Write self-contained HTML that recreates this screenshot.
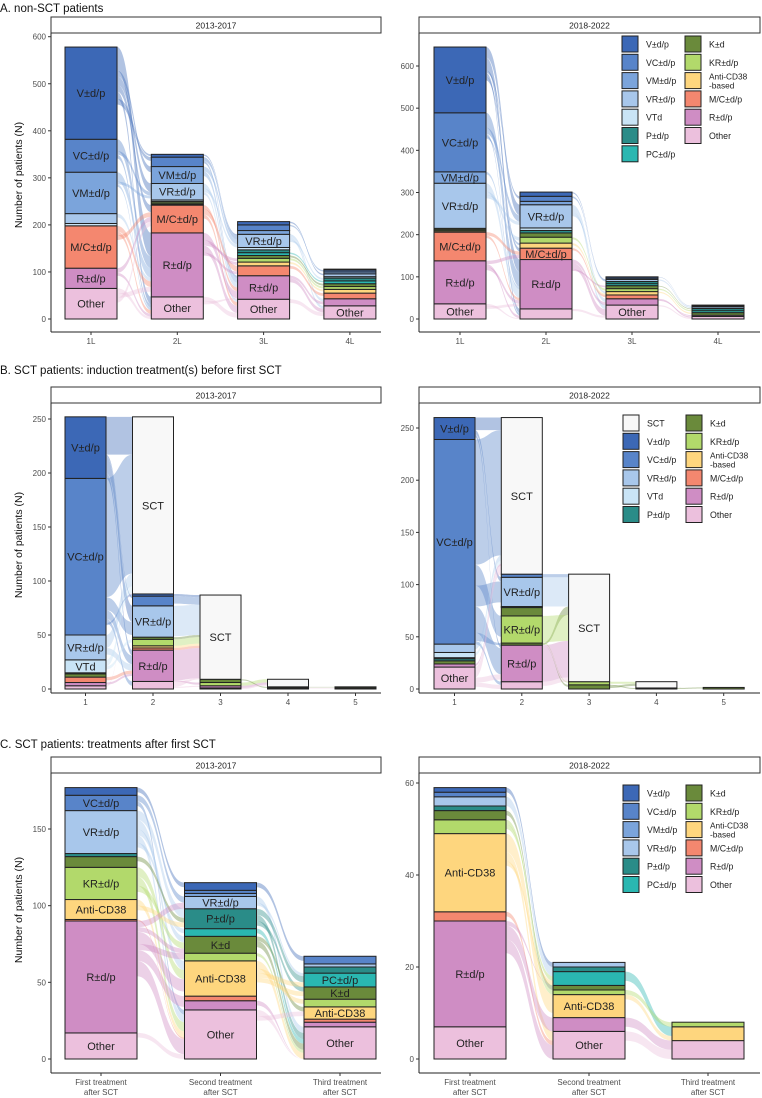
<!DOCTYPE html>
<html><head><meta charset="utf-8"><style>
html,body{margin:0;padding:0;background:#fff}
svg{display:block;font-family:"Liberation Sans",Arial,sans-serif}
</style></head><body>
<svg id="chart" width="762" height="1098" viewBox="0 0 762 1098" xmlns="http://www.w3.org/2000/svg">
<text x="0" y="12" font-size="11.5" fill="#111">A. non-SCT patients</text>
<text x="0" y="374" font-size="11.5" fill="#111">B. SCT patients: induction treatment(s) before first SCT</text>
<text x="0" y="748" font-size="11.5" fill="#111">C. SCT patients: treatments after first SCT</text>
<g id="layer"></g>
</svg>
<script>
// ---------- DATA ----------
const aStages = ['1L','2L','3L','4L'];
const bStages = ['1','2','3','4','5'];
const cStages = ['First treatment|after SCT','Second treatment|after SCT','Third treatment|after SCT'];

const aTicksLeft = [0,100,200,300,400,500,600];
const aTicksRight = [0,100,200,300,400,500,600];
const bTicks = [0,50,100,150,200,250];
const cTicksLeft = [0,50,100,150];
const cTicksRight = [0,20,40,60];

// stacks: bottom -> top : [category, patients, label]
const aLeftStacks = [
 [['Other',65,'Other'],['R',43,'R±d/p'],['MC',90,'M/C±d/p'],['VTd',5],['VR',21],['VM',88,'VM±d/p'],['VC',70,'VC±d/p'],['V',196,'V±d/p']],
 [['Other',47,'Other'],['R',136,'R±d/p'],['MC',59,'M/C±d/p'],['Anti',2],['K',3],['KR',3],['VTd',3],['VR',35,'VR±d/p'],['VM',36,'VM±d/p'],['VC',20],['V',6]],
 [['Other',42,'Other'],['R',50,'R±d/p'],['MC',21],['Anti',8],['KR',8],['K',6],['PC',6],['P',6],['VTd',5],['VR',28,'VR±d/p'],['VM',8],['VC',12],['V',7]],
 [['Other',28,'Other'],['R',15],['MC',12],['Anti',8],['KR',6],['K',6],['PC',6],['P',6],['VTd',3],['VR',6],['VM',4],['VC',4],['V',2]]
];
const aLeftFlows = [
 [0,'V','R',50],[0,'V','VM',12],[0,'V','VR',18],[0,'V','MC',15],[0,'V','Other',15],[0,'V','V',4],[0,'V','VC',8],
 [0,'VC','R',25],[0,'VC','VR',8],[0,'VC','Other',8],[0,'VM','R',20],[0,'VM','VR',6],[0,'VM','Other',5],[0,'VR','R',8],
 [0,'MC','R',12],[0,'MC','Other',8],[0,'MC','MC',10],[0,'R','MC',10],[0,'R','Other',6],[0,'Other','Other',10],[0,'Other','R',10],[0,'Other','MC',10],
 [1,'V','VR',3],[1,'VC','VR',8],[1,'VC','R',5],[1,'VM','VR',10],[1,'VM','R',10],[1,'VR','R',10],[1,'VR','VR',8],[1,'VR','Other',6],
 [1,'MC','R',8],[1,'MC','MC',12],[1,'MC','Other',8],[1,'R','R',15],[1,'R','Anti',6],[1,'R','KR',6],[1,'R','Other',15],[1,'R','MC',6],[1,'Other','Other',10],[1,'Other','R',6],
 [2,'V','VR',3],[2,'VC','VC',3],[2,'VR','R',6],[2,'VR','Other',6],[2,'VR','P',4],[2,'Anti','Anti',4],[2,'KR','KR',4],[2,'R','R',6],[2,'R','Other',8],[2,'MC','MC',6],[2,'Other','Other',8],[2,'K','K',4],[2,'PC','PC',3]
];

const aRightStacks = [
 [['Other',36,'Other'],['R',102,'R±d/p'],['MC',68,'M/C±d/p'],['Anti',3],['K',3],['KR',3],['VR',107,'VR±d/p'],['VM',27,'VM±d/p'],['VC',140,'VC±d/p'],['V',156,'V±d/p']],
 [['Other',24],['R',117,'R±d/p'],['MC',27,'M/C±d/p'],['Anti',12],['KR',14],['K',10],['P',6],['VTd',6],['VR',55,'VR±d/p'],['VM',8],['VC',12],['V',10]],
 [['Other',33,'Other'],['R',15],['MC',9],['Anti',8],['KR',7],['K',7],['P',6],['PC',4],['VR',5],['VC',3],['V',3]],
 [['Other',6],['R',3],['K',6],['P',6],['PC',4],['VR',4],['VC',2],['V',2]]
];
const aRightFlows = [
 [0,'V','VR',25],[0,'V','R',30],[0,'V','VC',6],[0,'V','Other',10],[0,'V','MC',8],[0,'VC','R',35],[0,'VC','VR',15],[0,'VC','Other',6],[0,'VC','Anti',5],
 [0,'VM','R',6],[0,'VR','R',20],[0,'VR','KR',8],[0,'VR','VR',8],[0,'MC','MC',8],[0,'MC','R',6],[0,'R','MC',8],[0,'R','Other',6],[0,'R','R',8],[0,'Other','Other',6],[0,'Other','R',6],
 [1,'V','VR',3],[1,'VC','VR',4],[1,'VR','R',8],[1,'VR','Other',10],[1,'VR','Anti',5],[1,'VR','VR',4],[1,'Anti','Anti',5],[1,'KR','KR',5],[1,'MC','MC',5],[1,'R','R',8],[1,'R','Other',15],[1,'R','K',4],[1,'Other','Other',5],
 [2,'V','VC',1],[2,'VR','VR',3],[2,'Anti','K',3],[2,'KR','P',3],[2,'R','Other',3],[2,'Other','Other',3],[2,'R','R',2],[2,'K','PC',2]
];

const bLeftStacks = [
 [['Other',3],['R',3],['MC',5],['K',3],['P',1],['VTd',12,'VTd'],['VR',23,'VR±d/p'],['VC',145,'VC±d/p'],['V',57,'V±d/p']],
 [['Other',7],['R',29,'R±d/p'],['MC',2],['Anti',2],['KR',6],['K',2],['VR',29,'VR±d/p'],['VC',9],['V',2],['SCT',164,'SCT']],
 [['Other',1],['R',2],['KR',3],['K',3],['SCT',78,'SCT']],
 [['Other',1],['K',1],['SCT',7]],
 [['Other',1],['K',1]]
];
const bLeftFlows = [
 [0,'V','SCT',35],[0,'V','VC',2],[0,'V','VR',15],[0,'V','R',5],[0,'VC','SCT',110],[0,'VC','VR',12],[0,'VC','R',8],[0,'VC','Other',4],[0,'VC','V',2],
 [0,'VR','SCT',12],[0,'VR','R',6],[0,'VTd','SCT',6],[0,'VTd','KR',3],[0,'MC','R',3],[0,'Other','SCT',1],[0,'R','R',2],
 [1,'V','SCT',2],[1,'VC','SCT',7],[1,'VR','SCT',28],[1,'K','SCT',2],[1,'KR','SCT',6],[1,'Anti','SCT',2],[1,'MC','SCT',2],[1,'R','SCT',28],[1,'R','KR',2],[1,'Other','SCT',5],[1,'Other','R',1],
 [2,'KR','SCT',3],[2,'K','K',1],[2,'R','SCT',2],[2,'Other','SCT',1],
 [3,'K','K',0.5],[3,'Other','Other',0.5]
];

const bRightStacks = [
 [['Other',21,'Other'],['R',3],['K',3],['P',2],['KR',1],['VTd',5],['VR',8],['VC',196,'VC±d/p'],['V',21,'V±d/p']],
 [['Other',7],['R',35,'R±d/p'],['K',2],['KR',26,'KR±d/p'],['K',8],['P',1],['VR',28,'VR±d/p'],['VC',3],['SCT',150,'SCT']],
 [['K',4],['KR',3],['SCT',103,'SCT']],
 [['K',1],['SCT',6]],
 [['K',1.5]]
];
const bRightFlows = [
 [0,'V','SCT',12],[0,'V','VR',4],[0,'V','R',3],[0,'VC','SCT',120],[0,'VC','KR',20],[0,'VC','VR',20],[0,'VC','R',25],[0,'VC','K',8],[0,'VC','Other',3],
 [0,'VR','SCT',5],[0,'VTd','SCT',3],[0,'R','SCT',2],[0,'Other','SCT',10],[0,'Other','R',5],[0,'Other','Other',4],
 [1,'VC','SCT',3],[1,'VR','SCT',28],[1,'K','SCT',8],[1,'KR','SCT',25],[1,'KR','KR',1],[1,'R','SCT',35],[1,'Other','SCT',4],[1,'K','K',2],
 [2,'K','K',1],[2,'KR','SCT',2],[2,'K','SCT',2],
 [3,'K','K',1]
];

const cLeftStacks = [
 [['Other',17,'Other'],['R',73,'R±d/p'],['MC',1],['Anti',13,'Anti-CD38'],['KR',21,'KR±d/p'],['K',7],['P',2],['VR',28,'VR±d/p'],['VC',10,'VC±d/p'],['V',5]],
 [['Other',32,'Other'],['R',6],['MC',3],['Anti',23,'Anti-CD38'],['KR',5],['K',11,'K±d'],['PC',5],['P',13,'P±d/p'],['VR',8,'VR±d/p'],['VM',2],['VC',2],['V',5]],
 [['Other',21,'Other'],['R',3],['MC',2],['Anti',8,'Anti-CD38'],['KR',5],['K',8,'K±d'],['PC',9,'PC±d/p'],['P',4],['VR',2],['VC',5]]
];
const cLeftFlows = [
 [0,'V','V',3],[0,'VC','VR',4],[0,'VC','Other',3],[0,'VR','P',6],[0,'VR','Anti',6],[0,'VR','K',4],[0,'VR','Other',5],[0,'VR','PC',3],[0,'K','P',3],
 [0,'KR','Anti',6],[0,'KR','Other',6],[0,'KR','K',4],[0,'Anti','Other',4],[0,'Anti','P',3],[0,'MC','Other',1],
 [0,'R','VR',4],[0,'R','K',3],[0,'R','Anti',8],[0,'R','KR',4],[0,'R','MC',3],[0,'R','R',4],[0,'R','Other',10],[0,'Other','Other',3],
 [1,'V','VC',3],[1,'VR','Other',4],[1,'VR','PC',2],[1,'P','PC',4],[1,'P','Other',4],[1,'P','K',3],[1,'PC','Other',3],[1,'K','Anti',3],[1,'K','Other',4],
 [1,'KR','Other',2],[1,'Anti','Other',5],[1,'Anti','KR',3],[1,'Anti','PC',3],[1,'Anti','K',3],[1,'R','Other',3],[1,'Other','Other',4],[1,'Other','Anti',3]
];

const cRightStacks = [
 [['Other',7,'Other'],['R',23,'R±d/p'],['MC',2],['Anti',17,'Anti-CD38'],['KR',3],['K',2],['P',1],['VR',2],['VC',1],['V',1]],
 [['Other',6,'Other'],['R',3],['Anti',5,'Anti-CD38'],['KR',1],['K',1],['PC',3],['P',1],['VR',1]],
 [['Other',4],['Anti',3],['KR',1]]
];
const cRightFlows = [
 [0,'V','VR',1],[0,'VR','P',1],[0,'VR','PC',1],[0,'K','K',1],[0,'KR','KR',1],[0,'KR','PC',1],[0,'Anti','Anti',4],[0,'Anti','Other',2],[0,'Anti','PC',1],
 [0,'MC','Other',1],[0,'R','PC',1],[0,'R','R',3],[0,'R','Other',3],
 [1,'PC','Anti',2],[1,'KR','KR',1],[1,'Anti','Anti',1],[1,'R','Other',2],[1,'Other','Other',2]
];

const legendA = [['V','V±d/p'],['VC','VC±d/p'],['VM','VM±d/p'],['VR','VR±d/p'],['VTd','VTd'],['P','P±d/p'],['PC','PC±d/p'],['K','K±d'],['KR','KR±d/p'],['Anti','Anti-CD38|-based'],['MC','M/C±d/p'],['R','R±d/p'],['Other','Other']];
const legendB = [['SCT','SCT'],['V','V±d/p'],['VC','VC±d/p'],['VR','VR±d/p'],['VTd','VTd'],['P','P±d/p'],['K','K±d'],['KR','KR±d/p'],['Anti','Anti-CD38|-based'],['MC','M/C±d/p'],['R','R±d/p'],['Other','Other']];
const legendC = [['V','V±d/p'],['VC','VC±d/p'],['VM','VM±d/p'],['VR','VR±d/p'],['P','P±d/p'],['PC','PC±d/p'],['K','K±d'],['KR','KR±d/p'],['Anti','Anti-CD38|-based'],['MC','M/C±d/p'],['R','R±d/p'],['Other','Other']];

// ---------- STYLE ----------
const COLORS = {V:'#3c68b6',VC:'#5884c9',VM:'#7ba4db',VR:'#a8c7eb',VTd:'#c9e4f6',P:'#2a8c88',PC:'#2ab7b1',K:'#6a8a3b',KR:'#b2d96b',Anti:'#fed67e',MC:'#f4876f',R:'#cf8dc4',Other:'#ecc0dd',SCT:'#f8f8f8'};
const NS='http://www.w3.org/2000/svg';
const layer=document.getElementById('layer');
function mk(tag,attrs,parent){const e=document.createElementNS(NS,tag);for(const k in attrs)e.setAttribute(k,attrs[k]);(parent||layer).appendChild(e);return e;}

function drawPanel(cfg, stages, ticks, stacks, flows, legend){
  const g=mk('g',{});
  
  
  const yScale=v=>cfg.y0-v*(cfg.y0-cfg.yTopPix)/cfg.yTopVal;
  const xBar=i=>cfg.x0+i*cfg.step;
  // strip
  const st=mk('rect',{x:cfg.axX,y:cfg.stripY,width:cfg.right-cfg.axX,height:16,fill:'#fff',stroke:'#333','stroke-width':1},g);
  
  
  const stt=mk('text',{x:(cfg.axX+cfg.right)/2,y:cfg.stripY+11.5,'font-size':8.5,'text-anchor':'middle',fill:'#222'},g);
  stt.textContent=cfg.strip;
  
  
  // axes
  mk('line',{x1:cfg.axX,y1:cfg.stripY+16,x2:cfg.axX,y2:cfg.xAxY,stroke:'#222','stroke-width':1},g);
  mk('line',{x1:cfg.axX,y1:cfg.xAxY,x2:cfg.right,y2:cfg.xAxY,stroke:'#222','stroke-width':1},g);
  ticks.forEach(t=>{
    const y=yScale(t);
    mk('line',{x1:cfg.axX-3,y1:y,x2:cfg.axX,y2:y,stroke:'#333'},g);
    const tx=mk('text',{x:cfg.axX-5,y:y+3,'font-size':8,'text-anchor':'end',fill:'#4d4d4d'},g);
    tx.textContent=t;
    
    
  });
  stages.forEach((s,i)=>{
    const cx=xBar(i)+cfg.barW/2;
    mk('line',{x1:cx,y1:cfg.xAxY,x2:cx,y2:cfg.xAxY+3,stroke:'#333'},g);
    s.split('|').forEach((ln,j)=>{
      const tx=mk('text',{x:cx,y:cfg.xAxY+12+j*10,'font-size':8,'text-anchor':'middle',fill:'#4d4d4d'},g);
      tx.textContent=ln;
      
      
    });
  });
  // segment positions
  const pos=stacks.map(bar=>{let c=0;const m={};bar.forEach(sg=>{const lo=c,hi=c+sg[1];c=hi;if(!m[sg[0]])m[sg[0]]={lo,hi,out:hi,inn:hi};});return m;});
  // flows
  const fg=mk('g',{},g);
  flows.forEach(f=>{
    const [s,from,to,n]=f;
    const a=pos[s]&&pos[s][from], b=pos[s+1]&&pos[s+1][to];
    if(!a||!b)return;
    const a1=a.out,a2=Math.max(a.lo,a.out-n);a.out=a2;
    const b1=b.inn,b2=Math.max(b.lo,b.inn-n);b.inn=b2;
    const x1=xBar(s)+cfg.barW,x2=xBar(s+1),xm=(x1+x2)/2;
    const ya1=yScale(a1),ya2=yScale(a2),yb1=yScale(b1),yb2=yScale(b2);
    const p=mk('path',{d:`M${x1},${ya1}C${xm},${ya1} ${xm},${yb1} ${x2},${yb1}L${x2},${yb2}C${xm},${yb2} ${xm},${ya2} ${x1},${ya2}Z`,fill:COLORS[from],'fill-opacity':0.4,stroke:'none'},fg);
    
    
  });
  // bars
  stacks.forEach((bar,i)=>{
    let c=0;
    bar.forEach(sg=>{
      const y1=yScale(c+sg[1]),y0=yScale(c);c+=sg[1];
      const r=mk('rect',{x:xBar(i),y:y1,width:cfg.barW,height:Math.max(0.5,y0-y1),fill:COLORS[sg[0]],stroke:'#222','stroke-width':1},g);
      
      
    });
  });
  stacks.forEach((bar,i)=>{
    let c=0;
    bar.forEach(sg=>{
      const mid=yScale(c+sg[1]/2);c+=sg[1];
      if(sg[2]){
        const t=mk('text',{x:xBar(i)+cfg.barW/2,y:mid+4,'font-size':cfg.labelSize||11,'text-anchor':'middle',fill:'#222'},g);
        t.textContent=sg[2];
        
        
      }
    });
  });
  // legend
  if(legend){
    const half=Math.ceil(legend.length/2);
    const n1=cfg.legCol1||half;
    legend.forEach((it,k)=>{
      const col=k<n1?0:1,row=col?k-n1:k;
      const lx=cfg.legX+col*63,ly=cfg.legY+row*18.3;
      const sw=mk('rect',{x:lx,y:ly,width:16,height:16,fill:COLORS[it[0]],stroke:'#222','stroke-width':1},g);
      
      
      const lines=it[1].split('|');
      lines.forEach((ln,j)=>{
        const t=mk('text',{x:lx+24,y:ly+(lines.length>1?7+j*9:11.5),'font-size':lines.length>1?8.3:8.8,fill:'#222'},g);
        t.textContent=ln;
        
        
      });
    });
  }
}

function yTitle(cy){
  const t=mk('text',{x:0,y:0,'font-size':10.5,'text-anchor':'middle',fill:'#111',transform:`translate(22,${cy}) rotate(-90)`});
  t.textContent='Number of patients (N)';
  
  
}

drawPanel({name:'panel-a-2013-2017',strip:'2013-2017',axX:51,right:381,stripY:17,xAxY:332,y0:319,yTopPix:36.7,yTopVal:600,x0:65,step:86.3,barW:52},aStages,aTicksLeft,aLeftStacks,aLeftFlows,null);
drawPanel({name:'panel-a-2018-2022',strip:'2018-2022',axX:419,right:760,stripY:17,xAxY:332,y0:319,yTopPix:66,yTopVal:600,x0:434,step:86,barW:52,legX:622,legY:36,legCol1:7},aStages,aTicksRight,aRightStacks,aRightFlows,legendA);
drawPanel({name:'panel-b-2013-2017',strip:'2013-2017',axX:51,right:381,stripY:387,xAxY:693,y0:689,yTopPix:419,yTopVal:250,x0:65,step:67.5,barW:41},bStages,bTicks,bLeftStacks,bLeftFlows,null);
drawPanel({name:'panel-b-2018-2022',strip:'2018-2022',axX:419,right:760,stripY:387,xAxY:693,y0:689,yTopPix:428,yTopVal:250,x0:434,step:67.3,barW:41,legX:623,legY:415,legCol1:6},bStages,bTicks,bRightStacks,bRightFlows,legendB);
drawPanel({name:'panel-c-2013-2017',strip:'2013-2017',axX:51,right:381,stripY:757,xAxY:1073,y0:1059,yTopPix:829,yTopVal:150,x0:65,step:119.5,barW:72},cStages,cTicksLeft,cLeftStacks,cLeftFlows,null);
drawPanel({name:'panel-c-2018-2022',strip:'2018-2022',axX:419,right:760,stripY:757,xAxY:1073,y0:1059,yTopPix:783,yTopVal:60,x0:434,step:119,barW:72,legX:623,legY:785,legCol1:6},cStages,cTicksRight,cRightStacks,cRightFlows,legendC);
yTitle(175);yTitle(545);yTitle(910);
</script>
</body></html>
